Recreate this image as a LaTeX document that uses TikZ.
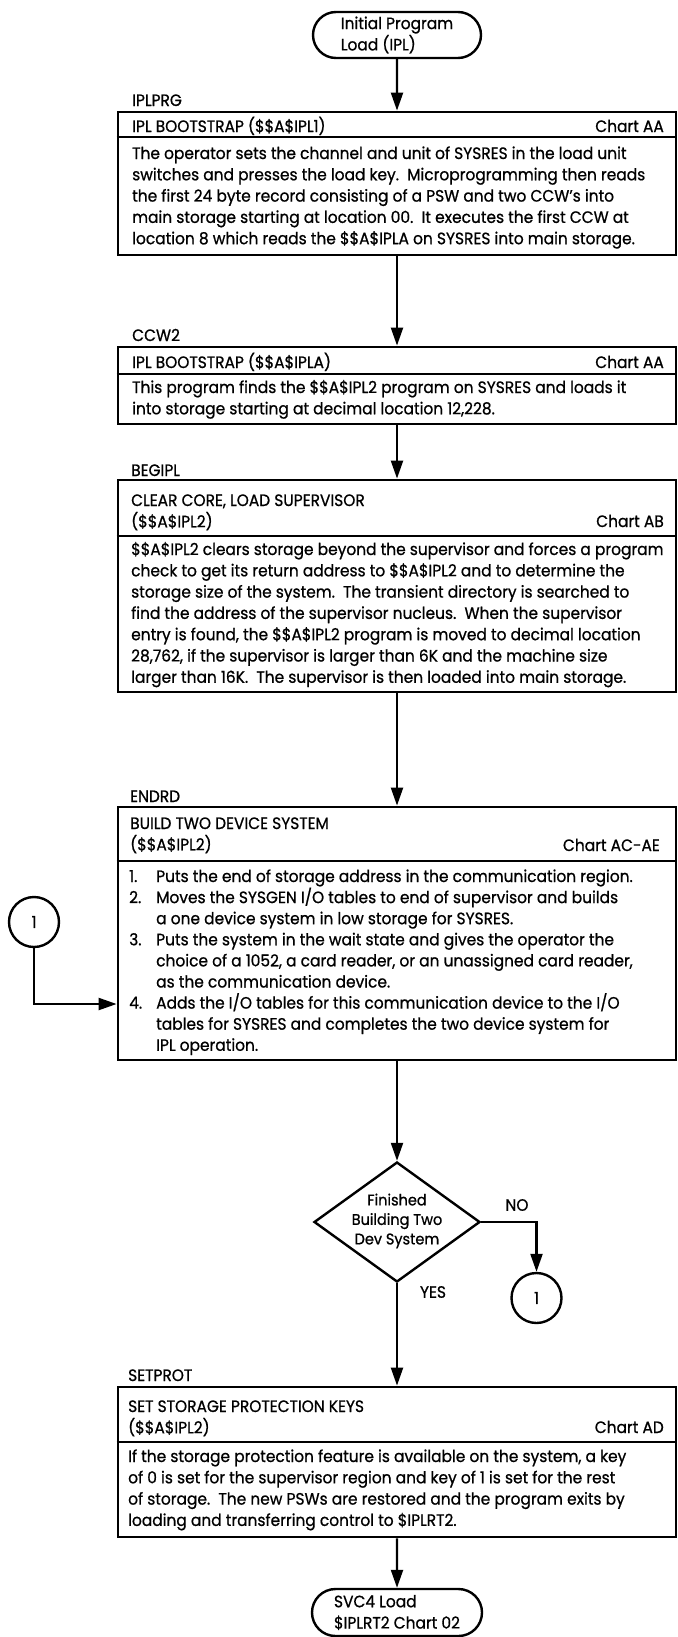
\documentclass[tikz,border=0pt]{standalone}
\usepackage{fontspec}
\setmainfont{Poppins}[FakeStretch=0.935, FakeBold=0.8]
\usetikzlibrary{arrows.meta,shapes.geometric,shapes.misc}

\newcommand\blines[1]{\vtop{\baselineskip=21.3bp\lineskiplimit=-100bp\lineskip=0pt\halign{##\hfil\cr#1\crcr}}}
\newcommand\nlines[1]{\vtop{\baselineskip=21.1bp\lineskiplimit=-100bp\lineskip=0pt\halign{\makebox[27bp][l]{##}&##\hfil\cr#1\crcr}}}

\begin{document}
\begin{tikzpicture}[x=1bp,y=-1bp,
  every node/.style={font=\fontsize{16.5bp}{21bp}\selectfont, inner sep=0pt},
  box/.style={draw, line width=2.8bp, minimum width=558bp},
  term/.style={draw, line width=2.4bp, rounded rectangle, minimum width=168bp, minimum height=46bp},
  conn/.style={draw, circle, line width=2.4bp, minimum size=50bp},
  dec/.style={draw, diamond, line width=2.4bp, minimum width=166bp, minimum height=120bp},
  arr/.style={line width=2.2bp, -{Triangle[length=18bp,width=12bp]}},
  rule/.style={line width=2bp},
  lbl/.style={anchor=base west},
  chart/.style={anchor=base east}]
\useasboundingbox (0,0) rectangle (678,1637);

% terminals
\node[term] (t1) at (397,35) {\blines{Initial Program\cr Load (IPL)}};
\node[term, minimum width=170bp, minimum height=47bp] (t2) at (397,1612.5) {\blines{SVC4 Load\cr \$IPLRT2 Chart 02}};

% box 1
\node[lbl] (l1) at (132,106) {IPLPRG};
\node[box, minimum height=143bp] (b1) at (397,183.5) {};
\draw[rule] (b1.west |- 0,137) -- (b1.east |- 0,137);
\node[lbl] (h1) at (132,132) {IPL BOOTSTRAP (\$\$A\$IPL1)};
\node[chart] (ch1) at (664,132) {Chart AA};
\node[lbl] (p1) at (132,159) {\blines{The operator sets the channel and unit of SYSRES in the load unit\cr
switches and presses the load key.\ \ Microprogramming then reads\cr
the first 24 byte record consisting of a PSW and two CCW's into\cr
main storage starting at location 00.\ \ It executes the first CCW at\cr
location 8 which reads the \$\$A\$IPLA on SYSRES into main storage.}};

% box 2
\node[lbl] (l2) at (132,341) {CCW2};
\node[box, minimum height=77bp] (b2) at (397,385.5) {};
\draw[rule] (b2.west |- 0,374) -- (b2.east |- 0,374);
\node[lbl] (h2) at (132,368) {IPL BOOTSTRAP (\$\$A\$IPLA)};
\node[chart] (ch2) at (664,368) {Chart AA};
\node[lbl] (p2) at (132,393) {\blines{This program finds the \$\$A\$IPL2 program on SYSRES and loads it\cr
into storage starting at decimal location 12,228.}};

% box 3
\node[lbl] (l3) at (131,476) {BEGIPL};
\node[box, minimum height=212bp] (b3) at (397,586) {};
\draw[rule] (b3.west |- 0,536) -- (b3.east |- 0,536);
\node[lbl] (h3) at (131,506) {\blines{CLEAR CORE, LOAD SUPERVISOR\cr (\$\$A\$IPL2)}};
\node[chart] (ch3) at (664,527) {Chart AB};
\node[lbl] (p3) at (131,555) {\blines{\$\$A\$IPL2 clears storage beyond the supervisor and forces a program\cr
check to get its return address to \$\$A\$IPL2 and to determine the\cr
storage size of the system.\ \ The transient directory is searched to\cr
find the address of the supervisor nucleus.\ \ When the supervisor\cr
entry is found, the \$\$A\$IPL2 program is moved to decimal location\cr
28,762, if the supervisor is larger than 6K and the machine size\cr
larger than 16K.\ \ The supervisor is then loaded into main storage.}};

% box 4
\node[lbl] (l4) at (130,802) {ENDRD};
\node[box, minimum height=253bp] (b4) at (397,933.5) {};
\draw[rule] (b4.west |- 0,861) -- (b4.east |- 0,861);
\node[lbl] (h4) at (130,829) {\blines{BUILD TWO DEVICE SYSTEM\cr (\$\$A\$IPL2)}};
\node[chart] (ch4) at (660,851) {Chart AC-AE};
\node[lbl] (p4) at (129,882) {\nlines{1.&Puts the end of storage address in the communication region.\cr
2.&Moves the SYSGEN I/O tables to end of supervisor and builds\cr
&a one device system in low storage for SYSRES.\cr
3.&Puts the system in the wait state and gives the operator the\cr
&choice of a 1052, a card reader, or an unassigned card reader,\cr
&as the communication device.\cr
4.&Adds the I/O tables for this communication device to the I/O\cr
&tables for SYSRES and completes the two device system for\cr
&IPL operation.}};

% decision
\node[dec] (d1) at (397,1222) {};
\node[align=center, font=\fontsize{15.5bp}{19.5bp}\selectfont] (dt) at (397,1221) {Finished\\Building Two\\Dev System};
\node (no) at (517,1205) {NO};
\node (yes) at (433,1292) {YES};

% connectors (off-page)
\node[conn] (k1) at (34,922) {1};
\node[conn] (k2) at (536.5,1298) {1};

% box 5
\node[lbl] (l5) at (128,1381) {SETPROT};
\node[box, minimum height=150bp] (b5) at (397,1462) {};
\draw[rule] (b5.west |- 0,1442) -- (b5.east |- 0,1442);
\node[lbl] (h5) at (128,1412) {\blines{SET STORAGE PROTECTION KEYS\cr (\$\$A\$IPL2)}};
\node[chart] (ch5) at (664,1433) {Chart AD};
\node[lbl] (p5) at (128,1462) {\blines{If the storage protection feature is available on the system, a key\cr
of 0 is set for the supervisor region and key of 1 is set for the rest\cr
of storage.\ \ The new PSWs are restored and the program exits by\cr
loading and transferring control to \$IPLRT2.}};

% flow
\draw[arr] (t1) -- (b1);
\draw[arr] (b1) -- (b2);
\draw[arr] (b2) -- (b3);
\draw[arr] (b3) -- (b4);
\draw[arr] (b4) -- (d1);
\draw[arr] (d1) -- (b5);
\draw[arr] (b5) -- (t2);
\draw[arr] (d1) -| (k2);
\draw[arr] (k1) |- ([yshift=-70.5bp]b4.west);
\end{tikzpicture}
\end{document}
